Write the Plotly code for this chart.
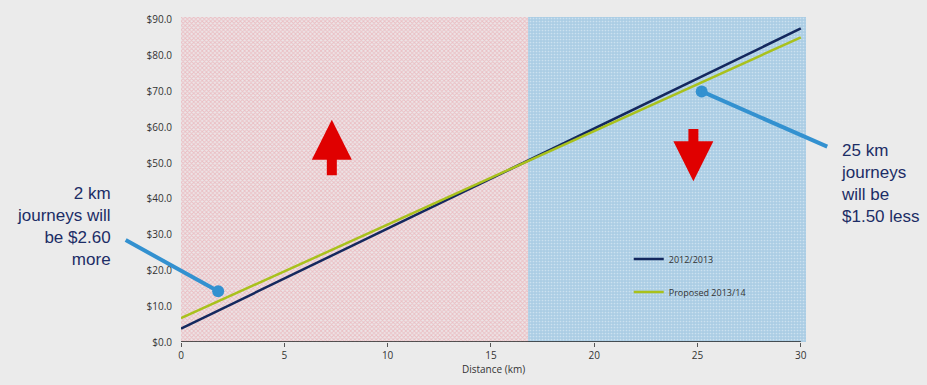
import plotly.graph_objects as go

# ---- data ----
distance_km = [0, 30]
fare_2012_13 = [3.75, 87.6]
fare_proposed_13_14 = [6.65, 85.1]
series_names = ["2012/2013", "Proposed 2013/14"]
y_ticks = [0, 10, 20, 30, 40, 50, 60, 70, 80, 90]
y_tick_labels = ["$%.1f" % v for v in y_ticks]
x_ticks = [0, 5, 10, 15, 20, 25, 30]
crossover_km = 16.8
callout_points_x = [1.8, 25.2]
callout_points_y = [14.2, 70.0]
callout_texts = ["2 km<br>journeys will<br>be $2.60<br>more",
                 "25 km<br>journeys<br>will be<br>$1.50 less"]

X_MAX = 30.25
Y_MAX = 90.8

fig = go.Figure()

# shaded regions
fig.add_trace(go.Scatter(
    x=[0, crossover_km, crossover_km, 0, 0], y=[0, 0, Y_MAX, Y_MAX, 0],
    mode="lines", line=dict(width=0), fill="toself",
    fillcolor="#eec3c7",
    fillpattern=dict(shape="x", fgcolor="#e9939b", bgcolor="#ece6e8", size=3, solidity=0.5),
    hoverinfo="skip", showlegend=False))
fig.add_trace(go.Scatter(
    x=[crossover_km, X_MAX, X_MAX, crossover_km, crossover_km], y=[0, 0, Y_MAX, Y_MAX, 0],
    mode="lines", line=dict(width=0), fill="toself",
    fillcolor="#b8d5e8",
    fillpattern=dict(shape=".", fgcolor="#eef5fa", bgcolor="#abcde4", size=3, solidity=0.25),
    hoverinfo="skip", showlegend=False))

# fare lines
fig.add_trace(go.Scatter(x=distance_km, y=fare_2012_13, mode="lines",
                         line=dict(color="#14285e", width=2.5), name=series_names[0],
                         legendgroup="a"))
fig.add_trace(go.Scatter(x=distance_km, y=fare_proposed_13_14, mode="lines",
                         line=dict(color="#a9c11c", width=2.5), name=series_names[1],
                         legendgroup="b"))

# callout dots
fig.add_trace(go.Scatter(x=callout_points_x, y=callout_points_y, mode="markers",
                         marker=dict(color="#3391d0", size=12), showlegend=False,
                         cliponaxis=False, hoverinfo="skip"))

# x axis base line
fig.add_shape(type="line", x0=0, x1=30, y0=0, y1=0, xref="x", yref="y",
              line=dict(color="#222222", width=1.5))

# leader lines
leader_tails = [(-2.75, 28.7), (31.35, 54.4)]
for (px, py), (tx, ty) in zip(zip(callout_points_x, callout_points_y), leader_tails):
    fig.add_annotation(x=px, y=py, ax=tx, ay=ty, xref="x", yref="y", axref="x", ayref="y",
                       text="", showarrow=True, arrowhead=0, arrowwidth=4,
                       arrowcolor="#3391d0")

# callout texts (paper coords so they are not hidden outside the axis range)
fig.add_annotation(x=-3.28 / X_MAX, y=32.3 / Y_MAX, xref="paper", yref="paper",
                   text=callout_texts[0], showarrow=False, xanchor="right", align="right",
                   font=dict(family="Liberation Sans, Arial", size=17, color="#1c2d66"))
fig.add_annotation(x=31.83 / X_MAX, y=44.3 / Y_MAX, xref="paper", yref="paper",
                   text=callout_texts[1], showarrow=False, xanchor="left", align="left",
                   font=dict(family="Liberation Sans, Arial", size=17, color="#1c2d66"))

# red direction arrows
fig.add_annotation(x=7.3, y=62.1, ax=7.3, ay=46.2, xref="x", yref="y", axref="x", ayref="y",
                   text="", showarrow=True, arrowhead=2, arrowsize=0.8, arrowwidth=10,
                   arrowcolor="#e00000")
fig.add_annotation(x=24.8, y=44.9, ax=24.8, ay=59.9, xref="x", yref="y", axref="x", ayref="y",
                   text="", showarrow=True, arrowhead=2, arrowsize=0.8, arrowwidth=10,
                   arrowcolor="#e00000")

fig.update_layout(
    width=927, height=385,
    margin=dict(l=181, r=121, t=15, b=38),
    paper_bgcolor="#ebebeb", plot_bgcolor="#ebebeb",
    font=dict(family="Open Sans, Lato, sans-serif", size=10, color="#333333"),
    showlegend=True,
    legend=dict(x=0.7164, y=0.30, xanchor="left", yanchor="top",
                bgcolor="rgba(0,0,0,0)", font=dict(size=9, color="#333333"),
                itemwidth=30, tracegroupgap=14, traceorder="grouped"),
    xaxis=dict(range=[0, X_MAX], tickvals=x_ticks, showgrid=False, zeroline=False,
               showline=False, ticks="outside", ticklen=4, tickcolor="#555555",
               title=dict(text="Distance (km)", standoff=4, font=dict(size=10))),
    yaxis=dict(range=[0, Y_MAX], tickvals=y_ticks, ticktext=y_tick_labels,
               showgrid=True, gridcolor="rgba(150,150,150,0.25)", zeroline=False,
               showline=False, ticks="", ticklabelstandoff=8),
)

fig.write_html("out.html")
